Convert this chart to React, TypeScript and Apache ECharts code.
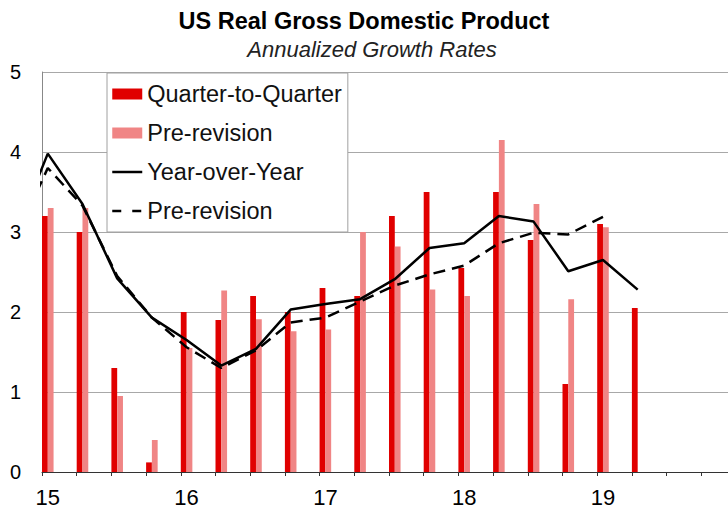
import React, { useEffect, useRef } from "react";
import * as echarts from "echarts";

// ---- Data ----
const years = ["15", "16", "17", "18", "19"];
const quarterLabels = [
  "15Q1", "15Q2", "15Q3", "15Q4",
  "16Q1", "16Q2", "16Q3", "16Q4",
  "17Q1", "17Q2", "17Q3", "17Q4",
  "18Q1", "18Q2", "18Q3", "18Q4",
  "19Q1", "19Q2",
];
// Quarter-to-quarter annualized growth (current vintage)
const qoq = [3.2, 3.0, 1.3, 0.12, 2.0, 1.9, 2.2, 2.0, 2.3, 2.2, 3.2, 3.5, 2.55, 3.5, 2.9, 1.1, 3.1, 2.05];
// Quarter-to-quarter, pre-revision
const qoqPre = [3.3, 3.3, 0.95, 0.4, 1.55, 2.27, 1.91, 1.76, 1.78, 3.0, 2.82, 2.28, 2.2, 4.15, 3.35, 2.16, 3.06];
// Year-over-year lines start one quarter before the axis (clipped at left edge)
const lineQuarterLabels = ["14Q4", ...quarterLabels];
const yoy = [2.9, 3.98, 3.35, 2.42, 1.93, 1.65, 1.33, 1.54, 2.03, 2.1, 2.16, 2.41, 2.8, 2.86, 3.2, 3.13, 2.51, 2.65, 2.28];
const yoyPre = [2.85, 3.8, 3.33, 2.45, 1.93, 1.56, 1.3, 1.52, 1.87, 1.93, 2.13, 2.33, 2.47, 2.58, 2.86, 2.99, 2.97, 3.19];

const yTicks = [0, 1, 2, 3, 4, 5];

// ---- Helpers ----
const months = years.flatMap((y) =>
  Array.from({ length: 12 }, (_, i) => `${y}-${String(i + 1).padStart(2, "0")}`)
);
const monthIndexOf = (q: string) => {
  const yy = parseInt(q.slice(0, 2), 10);
  const qq = parseInt(q.slice(3), 10);
  return (yy - 15) * 12 + (qq - 1) * 3;
};
const toMonthly = (vals: number[]) => {
  const arr: (number | null)[] = months.map(() => null);
  vals.forEach((v, i) => {
    arr[monthIndexOf(quarterLabels[i])] = v;
  });
  return arr;
};
const toLine = (vals: number[]) =>
  vals.map((v, i) => [monthIndexOf(lineQuarterLabels[i]) + 0.5, v]);

const FONT = "'Liberation Sans', Arial, Helvetica, sans-serif";

export default function App() {
  const ref = useRef<HTMLDivElement>(null);

  useEffect(() => {
    if (!ref.current) return;
    const chart = echarts.init(ref.current, undefined, { renderer: "svg" });
    chart.setOption({
      animation: false,
      backgroundColor: "#fff",
      textStyle: { fontFamily: FONT },
      graphic: [
        {
          type: "text",
          x: 364,
          y: 21,
          style: {
            text: "US Real Gross Domestic Product",
            fontFamily: FONT,
            fontSize: 23.5,
            fontWeight: "bold",
            fill: "#000",
            align: "center",
            verticalAlign: "middle",
          },
        },
        {
          type: "text",
          x: 372,
          y: 49,
          style: {
            text: "Annualized Growth Rates",
            fontFamily: FONT,
            fontSize: 22,
            fontStyle: "italic",
            fill: "#222",
            align: "center",
            verticalAlign: "middle",
          },
        },
      ],
      legend: {
        orient: "vertical",
        left: 107,
        top: 73,
        padding: [9, 6, 9, 4],
        itemWidth: 30,
        itemHeight: 11,
        itemGap: 15,
        backgroundColor: "#fff",
        borderColor: "#a0a0a0",
        borderWidth: 1,
        selectedMode: false,
        textStyle: { fontFamily: FONT, fontSize: 23.5, color: "#111" },
        formatter: (n: string) => (n === "Pre-revision YoY" ? "Pre-revision" : n),
        data: [
          { name: "Quarter-to-Quarter", icon: "rect" },
          { name: "Pre-revision", icon: "rect" },
          {
            name: "Year-over-Year",
            itemStyle: { opacity: 0 },
            lineStyle: { width: 2.5, type: "solid" },
          },
          {
            name: "Pre-revision YoY",
            itemStyle: { opacity: 0 },
            lineStyle: { width: 2.5, type: [9, 11] },
          },
        ],
      },
      // chart canvas is 740 wide inside a 728-wide clipping frame; the axis runs past the right edge
      grid: { left: 42, right: 4, top: 72, bottom: 38, containLabel: false },
      xAxis: [
        {
          type: "category",
          data: months,
          boundaryGap: true,
          axisLine: { show: true, lineStyle: { color: "#333", width: 1 } },
          axisTick: {
            show: true,
            interval: (i: number) => i % 3 === 0,
            length: 4,
            lineStyle: { color: "#333" },
          },
          axisLabel: {
            interval: (i: number) => i % 12 === 0,
            formatter: (v: string) => v.slice(0, 2),
            fontFamily: FONT,
            fontSize: 22,
            color: "#000",
            margin: 14,
          },
          splitLine: { show: false },
        },
        {
          type: "value",
          min: 0,
          max: months.length,
          show: false,
          splitLine: { show: false },
        },
      ],
      yAxis: {
        type: "value",
        min: yTicks[0],
        max: yTicks[yTicks.length - 1],
        interval: 1,
        axisLine: { show: true, lineStyle: { color: "#888" } },
        axisTick: { show: false },
        axisLabel: { fontFamily: FONT, fontSize: 20, color: "#000", margin: 21 },
        splitLine: { show: true, lineStyle: { color: "#a8a8a8", width: 1 } },
      },
      series: [
        {
          name: "Quarter-to-Quarter",
          type: "bar",
          xAxisIndex: 0,
          data: toMonthly(qoq),
          barGap: "0%",
          barCategoryGap: "0%",
          itemStyle: { color: "#e00000" },
          z: 2,
        },
        {
          name: "Pre-revision",
          type: "bar",
          xAxisIndex: 0,
          data: toMonthly(qoqPre),
          barGap: "0%",
          barCategoryGap: "0%",
          itemStyle: { color: "#f08585" },
          z: 2,
        },
        {
          name: "Year-over-Year",
          type: "line",
          xAxisIndex: 1,
          data: toLine(yoy),
          symbol: "none",
          clip: true,
          lineStyle: { color: "#000", width: 2.5, type: "solid" },
          itemStyle: { color: "#000" },
          z: 4,
        },
        {
          name: "Pre-revision YoY",
          type: "line",
          xAxisIndex: 1,
          data: toLine(yoyPre),
          symbol: "none",
          clip: true,
          lineStyle: { color: "#000", width: 2.5, type: [12, 7] },
          itemStyle: { color: "#000" },
          z: 3,
        },
      ],
    });
    return () => chart.dispose();
  }, []);

  return (
    <div
      style={{
        position: "absolute",
        left: 0,
        top: 0,
        width: 728,
        height: 510,
        overflow: "hidden",
      }}
    >
      <div ref={ref} style={{ width: 740, height: 510 }} />
    </div>
  );
}
